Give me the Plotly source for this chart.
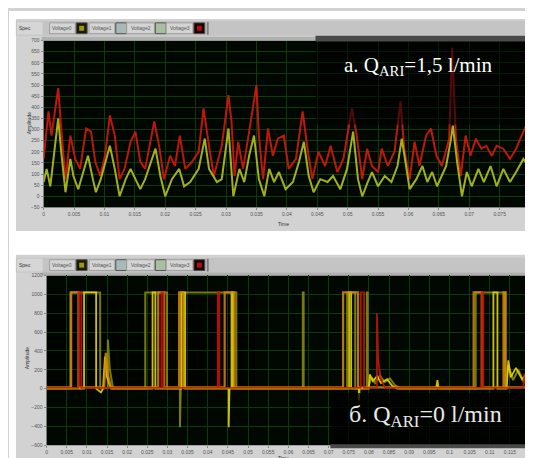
import plotly.graph_objects as go

W, H = 533, 458

# ---------------- top chart: a. Q = 1,5 l/min ----------------
TOP_T_YELLOW = [0, 0.0005, 0.0011, 0.0020, 0.0024, 0.0029, 0.0036, 0.0044, 0.0049, 0.0057,
                0.0065, 0.0073, 0.0081, 0.0086, 0.0094, 0.0109, 0.0117, 0.0125, 0.0135, 0.0143,
                0.0151, 0.0159, 0.0167, 0.0184, 0.0192, 0.0200, 0.0211, 0.0223, 0.0231, 0.0241,
                0.0255, 0.0265, 0.0272, 0.0285, 0.0293, 0.0304, 0.0312, 0.0322, 0.0330, 0.0338,
                0.0346, 0.0354, 0.0363, 0.0371, 0.0379, 0.0387, 0.0398, 0.0410, 0.0420, 0.0428,
                0.0436, 0.0444, 0.0455, 0.0467, 0.0476, 0.0488, 0.0499, 0.0509, 0.0517, 0.0524,
                0.0533, 0.0540, 0.0550, 0.0561, 0.0572, 0.0582, 0.0589, 0.0597, 0.0602, 0.0613,
                0.0623, 0.0631, 0.0639, 0.0647, 0.0662, 0.0670, 0.0673, 0.0680, 0.0688, 0.0696,
                0.0704, 0.0715, 0.0724, 0.0735, 0.0745, 0.0756, 0.0767, 0.0777, 0.0789, 0.0797,
                0.0800]
TOP_V_YELLOW = [64, 123, 45, 273, 350, 200, 18, 168, 91, 32,
                109, 182, 77, 18, 77, 227, 123, 0, 77, 123,
                77, 32, 77, 214, 91, 0, 77, 123, 45, 64,
                123, 259, 123, 64, 77, 305, 0, 123, 64, 182,
                273, 77, 0, 123, 64, 109, 32, 64, 155, 245,
                91, 18, 77, 64, 91, 32, 123, 291, 77, 0,
                64, 109, 45, 91, 64, 136, 259, 109, 32, 77,
                136, 64, 109, 45, 136, 259, 318, 155, 0, 109,
                45, 123, 64, 136, 45, 123, 64, 109, 168, 136,
                64]
TOP_T_RED = [0, 0.0008, 0.0013, 0.0024, 0.0029, 0.0036, 0.0044, 0.0052, 0.0060, 0.0070,
             0.0078, 0.0085, 0.0093, 0.0101, 0.0109, 0.0117, 0.0125, 0.0133, 0.0143, 0.0151,
             0.0159, 0.0167, 0.0182, 0.0190, 0.0198, 0.0208, 0.0216, 0.0224, 0.0233, 0.0244,
             0.0255, 0.0263, 0.0272, 0.0280, 0.0293, 0.0304, 0.0309, 0.0314, 0.0320, 0.0328,
             0.0337, 0.0350, 0.0354, 0.0361, 0.0369, 0.0377, 0.0385, 0.0395, 0.0403, 0.0415,
             0.0426, 0.0434, 0.0442, 0.0452, 0.0463, 0.0472, 0.0483, 0.0493, 0.0507, 0.0515,
             0.0524, 0.0532, 0.0540, 0.0550, 0.0556, 0.0566, 0.0577, 0.0587, 0.0593, 0.0602,
             0.0610, 0.0618, 0.0629, 0.0637, 0.0646, 0.0655, 0.0667, 0.0672, 0.0678, 0.0686,
             0.0694, 0.0702, 0.0711, 0.0720, 0.0728, 0.0737, 0.0745, 0.0756, 0.0767, 0.0777,
             0.0789, 0.0797, 0.0800]
TOP_V_RED = [168, 382, 273, 486, 305, 77, 273, 168, 123, 305,
             291, 155, 91, 182, 364, 273, 77, 123, 245, 291,
             155, 123, 336, 227, 77, 182, 136, 273, 123, 155,
             200, 395, 227, 91, 227, 455, 336, 91, 245, 123,
             273, 500, 273, 77, 305, 182, 259, 273, 123, 168,
             382, 214, 77, 200, 136, 227, 109, 168, 395, 273,
             77, 214, 136, 109, 214, 136, 200, 427, 214, 77,
             245, 136, 273, 305, 182, 136, 259, 668, 259, 91,
             273, 182, 259, 214, 227, 182, 227, 214, 168, 214,
             291, 336, 259]
TOP_X_TICKS = [0, 0.005, 0.01, 0.015, 0.02, 0.025, 0.03, 0.035, 0.04, 0.045, 0.05,
               0.055, 0.06, 0.065, 0.07, 0.075, 0.08]
TOP_X_LABELS = ["0", "0.005", "0.01", "0.015", "0.02", "0.025", "0.03", "0.035", "0.04",
                "0.045", "0.05", "0.055", "0.06", "0.065", "0.07", "0.075", "0.08"]
TOP_Y_TICKS = [-50, 0, 50, 100, 150, 200, 250, 300, 350, 400, 450, 500, 550, 600, 650, 700]

# ---------------- bottom chart: б. Q = 0 l/min ----------------
BOT_T_OLIVE = [0, 0.0059, 0.0059, 0.0133, 0.0133, 0.0152, 0.0152, 0.0157, 0.0165,
               0.0245, 0.0245, 0.0299, 0.0299, 0.0331, 0.0331, 0.0333,
               0.0341, 0.0341, 0.0471, 0.0471, 0.0636, 0.0636, 0.0638, 0.0638,
               0.0746, 0.0746, 0.0766, 0.0766, 0.0795, 0.0795, 0.0797, 0.0797,
               0.0807, 0.0815, 0.0827, 0.0839, 0.0852, 0.0864, 0.0876,
               0.1065, 0.1065, 0.1139, 0.1139, 0.1146, 0.1158, 0.1171, 0.1183, 0.1195, 0.1200]
BOT_V_OLIVE = [5, 5, 1020, 1020, 5, 5, 520, 200, 5,
               5, 1020, 1020, 5, 5, -410, 5,
               5, 1020, 1020, 5, 5, 1020, 1020, 5,
               5, 1020, 1020, 5, 5, 1020, 1020, 5,
               120, 60, 140, 70, 110, 40, 5,
               5, 1020, 1020, 5, 250, 90, 200, 80, 130, 60]
BOT_T_YELLOW = [0, 0.0093, 0.0093, 0.0123, 0.0123, 0.0135, 0.0140, 0.0145, 0.0150, 0.0160,
                0.0263, 0.0263, 0.0270, 0.0270, 0.0334, 0.0334, 0.0344, 0.0344,
                0.0452, 0.0452, 0.0454, 0.0459, 0.0459, 0.0463, 0.0463,
                0.0751, 0.0751, 0.0756, 0.0756, 0.0775, 0.0775, 0.0777, 0.0800,
                0.0802, 0.0810, 0.0820, 0.0830, 0.0845, 0.0858, 0.0870,
                0.0967, 0.0970, 0.0973, 0.1109, 0.1109, 0.1119, 0.1119, 0.1142,
                0.1146, 0.1152, 0.1165, 0.1180, 0.1190, 0.1200]
BOT_V_YELLOW = [0, 0, 1020, 1020, 0, -40, 0, 340, 120, 0,
                0, 1020, 1020, 0, 0, 1020, 1020, 0,
                0, -410, 0, 0, 1020, 1020, 0,
                0, 1020, 1020, 0, 0, -125, 0, 0,
                150, 80, 130, 60, 100, 30, 0,
                0, 90, 0, 0, 1020, 1020, 0, 0,
                300, 120, 220, 100, 150, 80]
BOT_T_ORANGE = [0, 0.0061, 0.0061, 0.0079, 0.0079, 0.0143, 0.0147, 0.0152, 0.0160,
                0.0277, 0.0277, 0.0292, 0.0292, 0.0329, 0.0329, 0.0339, 0.0339,
                0.0442, 0.0442, 0.0466, 0.0466, 0.0736, 0.0736, 0.0773, 0.0773,
                0.1060, 0.1060, 0.1080, 0.1080, 0.1134, 0.1134, 0.1139, 0.1139, 0.1200]
BOT_V_ORANGE = [15, 15, 1020, 1020, 15, 15, 380, 150, 15,
                15, 1020, 1020, 15, 15, 1020, 1020, 15,
                15, 1020, 1020, 15, 15, 1020, 1020, 15,
                15, 1020, 1020, 15, 15, 1020, 1020, 15, 15]
BOT_T_RED = [0, 0.0079, 0.0079, 0.0086, 0.0086, 0.0285, 0.0285, 0.0290, 0.0290,
             0.0425, 0.0425, 0.0429, 0.0429, 0.0780, 0.0780, 0.0788, 0.0788,
             0.0820, 0.0820, 0.0823, 0.0830, 0.0840, 0.1080, 0.1080, 0.1084, 0.1084,
             0.1183, 0.1186, 0.1190, 0.1200]
BOT_V_RED = [8, 8, 1020, 1020, 8, 8, 1020, 1020, 8,
             8, 1020, 1020, 8, 8, 1020, 1020, 8,
             8, 800, 300, 100, 8, 8, 1020, 1020, 8,
             8, 160, 8, 8]
BOT_X_TICKS = [0, 0.005, 0.01, 0.015, 0.02, 0.025, 0.03, 0.035, 0.04, 0.045, 0.05, 0.055,
               0.06, 0.065, 0.07, 0.075, 0.08, 0.085, 0.09, 0.095, 0.1, 0.105, 0.11, 0.115, 0.12]
BOT_X_LABELS = ["0", "0.005", "0.01", "0.015", "0.02", "0.025", "0.03", "0.035", "0.04",
                "0.045", "0.05", "0.055", "0.06", "0.065", "0.07", "0.075", "0.08", "0.085",
                "0.09", "0.095", "0.1", "0.105", "0.11", "0.115", "0.12"]
BOT_Y_TICKS = [-600, -400, -200, 0, 200, 400, 600, 800, 1000, 1200]

LEGEND_NAMES = ["Voltage0", "Voltage1", "Voltage2", "Voltage3"]
TOP_LABEL = "а. Q<sub>ARI</sub>=1,5 l/min"
BOT_LABEL = "б. Q<sub>ARI</sub>=0 l/min"

# ---------------- helpers ----------------
def fx(px):
    return px / W

def fy(py):
    return 1 - py / H

shapes = []
annotations = []

def rect(x0, y0, x1, y1, fill, line=None, layer="below", opacity=1.0):
    shapes.append(dict(type="rect", xref="paper", yref="paper",
                       x0=fx(x0), x1=fx(x1), y0=fy(y1), y1=fy(y0),
                       fillcolor=fill, opacity=opacity, layer=layer,
                       line=dict(width=0) if line is None else dict(color=line, width=1)))

def text(x, y, s, size=5, color="#333333", angle=0, family="Liberation Sans"):
    annotations.append(dict(x=fx(x), y=fy(y), xref="paper", yref="paper", text=s,
                            showarrow=False, textangle=angle, xanchor="center", yanchor="middle",
                            font=dict(size=size, color=color, family=family)))

# white surroundings
rect(0, 0, W, 8, "white")
rect(0, 0, 7, H, "white")
rect(0, 223, W, 247, "white")

def legend_strip(oy):
    rect(7, oy, W, oy + 15, "#c4c4c4")
    rect(8, oy + 1, 34, oy + 14, "#d6d6d6")
    text(16, oy + 7.5, "Spec", size=5)
    bx = [41, 81, 119, 159]
    sx = [68, 108, 148, 187]
    sw = [("#1a1a00", "#9a9a10"), ("#a9b9b9", "#a9b9b9"), ("#a8c0a0", "#a8c0a0"), ("#1a0000", "#b01010")]
    for i in range(4):
        rect(bx[i], oy + 2, sx[i] - 1, oy + 13, "#d4d4d4", line="#a0a0a0")
        text((bx[i] + sx[i] - 1) / 2, oy + 7.5, LEGEND_NAMES[i], size=5, color="#555555")
        rect(sx[i], oy + 2, sx[i] + 11, oy + 13, sw[i][0], line="#505050")
        rect(sx[i] + 3, oy + 5, sx[i] + 8, oy + 10, sw[i][1])
    rect(200, oy + 1, 202, oy + 14, "#808080")

legend_strip(10)
legend_strip(250)

# strips above plots and right frame
rect(33, 26, 528, 30, "#b0b0b0")
rect(33, 265, 528, 268, "#b0b0b0")
rect(527, 26, 531, 200, "#9a9a9a")
rect(527, 265, 531, 441, "#9a9a9a")

# text boxes drawn over the plot area (semi-transparent black)
rect(310, 30, 527, 115, "#000000", layer="above", opacity=0.55)
rect(310, 25, 527, 31, "#4a4a4a", layer="above")
rect(325, 387, 522, 440, "#000000", layer="above", opacity=0.75)
rect(325, 439, 522, 443, "#4a4a4a", layer="above")
annotations.append(dict(x=fx(414), y=fy(56), xref="paper", yref="paper", text=TOP_LABEL,
                        xanchor="center", yanchor="middle", showarrow=False,
                        font=dict(size=21, color="white", family="Liberation Serif")))
annotations.append(dict(x=fx(421), y=fy(410), xref="paper", yref="paper", text=BOT_LABEL,
                        xanchor="center", yanchor="middle", showarrow=False,
                        font=dict(size=24, color="#e8e8e8", family="Liberation Serif")))

# axis titles
text(20, 114, "Amplitude", size=5, angle=-90)
text(19, 352, "Amplitude", size=5, angle=-90)
text(278, 216, "Time", size=5)
text(278, 453, "Time", size=5)

# ---------------- traces ----------------
fig = go.Figure()
fig.add_trace(go.Scatter(x=TOP_T_RED, y=TOP_V_RED, xaxis="x", yaxis="y", mode="lines",
                         line=dict(color="#d41a0a", width=2), opacity=0.9, showlegend=False))
fig.add_trace(go.Scatter(x=TOP_T_YELLOW, y=TOP_V_YELLOW, xaxis="x", yaxis="y", mode="lines",
                         line=dict(color="#b4c41c", width=2), opacity=0.9, showlegend=False))

fig.add_trace(go.Scatter(x=BOT_T_OLIVE, y=BOT_V_OLIVE, xaxis="x2", yaxis="y2", mode="lines",
                         line=dict(color="#8c9010", width=2), opacity=0.85, showlegend=False))
fig.add_trace(go.Scatter(x=BOT_T_YELLOW, y=BOT_V_YELLOW, xaxis="x2", yaxis="y2", mode="lines",
                         line=dict(color="#e8d400", width=1.8), opacity=0.9, showlegend=False))
fig.add_trace(go.Scatter(x=BOT_T_ORANGE, y=BOT_V_ORANGE, xaxis="x2", yaxis="y2", mode="lines",
                         line=dict(color="#d8880a", width=2.2), opacity=0.85, showlegend=False))
fig.add_trace(go.Scatter(x=BOT_T_RED, y=BOT_V_RED, xaxis="x2", yaxis="y2", mode="lines",
                         line=dict(color="#c81808", width=1.8), opacity=0.85, showlegend=False))

tickfont = dict(size=5, color="#555555", family="Liberation Sans")
grid = "#0e3a0e"
common = dict(showgrid=True, gridcolor=grid, gridwidth=1, zeroline=False, showline=False,
              ticks="outside", ticklen=2, tickcolor="#888888", tickfont=tickfont, fixedrange=True)

fig.update_layout(
    width=W, height=H, autosize=False,
    margin=dict(l=0, r=0, t=0, b=0, pad=0),
    paper_bgcolor="#d2d2d2", plot_bgcolor="#010801",
    xaxis=dict(domain=[fx(35), fx(527)], range=[0, 0.08], anchor="y",
               tickvals=TOP_X_TICKS, ticktext=TOP_X_LABELS, **common),
    yaxis=dict(domain=[fy(199), fy(30)], range=[-50, 700], anchor="x",
               tickvals=TOP_Y_TICKS, **common),
    xaxis2=dict(domain=[fx(38), fx(527)], range=[0, 0.12], anchor="y2",
                tickvals=BOT_X_TICKS, ticktext=BOT_X_LABELS, **common),
    yaxis2=dict(domain=[fy(440), fy(268)], range=[-600, 1200], anchor="x2",
                tickvals=BOT_Y_TICKS, **common),
    shapes=shapes, annotations=annotations,
    font=dict(family="Liberation Sans"),
)

fig.write_html("out.html")
